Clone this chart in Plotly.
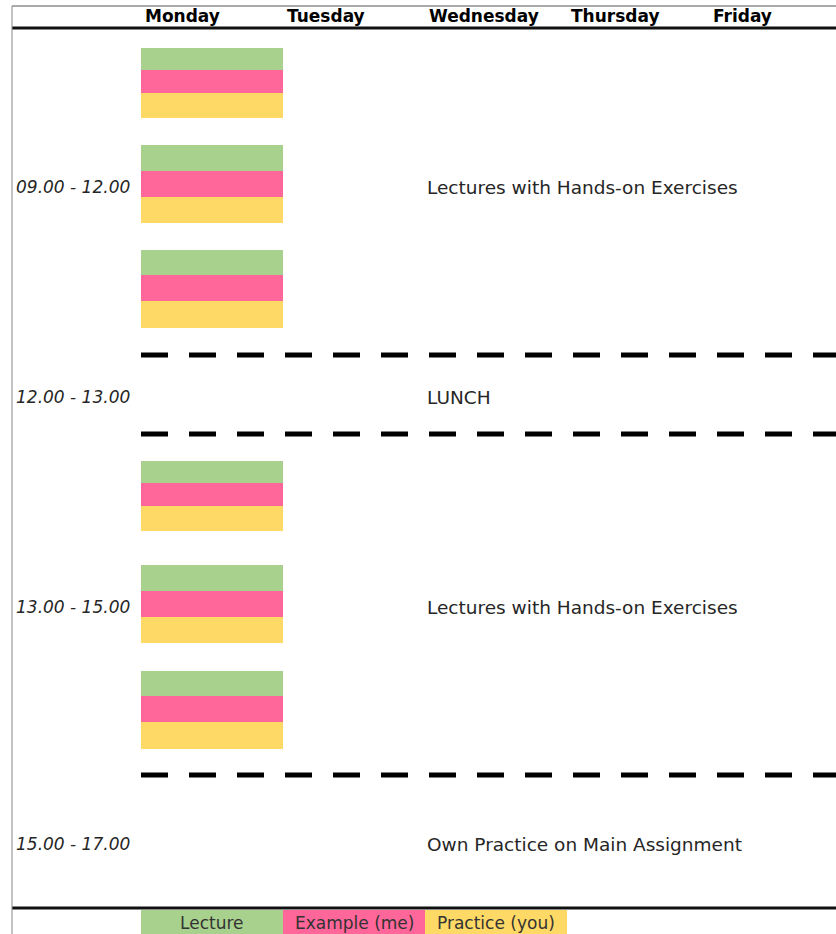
import plotly.graph_objects as go

# ---- data ----
days = ["Monday", "Tuesday", "Wednesday", "Thursday", "Friday"]
slot_times = ["09.00 - 12.00", "12.00 - 13.00", "13.00 - 15.00", "15.00 - 17.00"]
slot_activity = ["Lectures with Hands-on Exercises", "LUNCH",
                 "Lectures with Hands-on Exercises", "Own Practice on Main Assignment"]
blocks_per_slot = [3, 0, 3, 0]
legend_items = ["Lecture", "Example (me)", "Practice (you)"]

# ---- layout / style ----
W, H = 836, 934
colors = ["#A9D18E", "#FF6699", "#FFD966"]
col_x0, col_w = 141, 142
slot_centers = [187, 397, 607, 844]
block_tops = {0: [48, 145, 250], 2: [461, 565, 671]}
block_band_h = [[22, 23, 25], [26, 26, 26], [25, 26, 27]]
dash_ys = [355, 434, 775]
header_y, header_line_y, top_line_y = 16, 28, 6
bottom_line_y, legend_y0, legend_y1 = 908, 910, 934
left_x = 12

FONT = "DejaVu Sans"

fig = go.Figure()

# schedule blocks
for s, n in enumerate(blocks_per_slot):
    if n == 0:
        continue
    for b, top in enumerate(block_tops[s][:n]):
        y = top
        for k, c in enumerate(colors):
            h = block_band_h[b][k]
            fig.add_trace(go.Bar(
                orientation="h", y=[y + h / 2], x=[col_w], base=[col_x0],
                width=[h], marker=dict(color=c, line=dict(width=0)),
                showlegend=False, hoverinfo="skip"))
            y += h

# legend cells
for k, (name, c) in enumerate(zip(legend_items, colors)):
    fig.add_trace(go.Bar(
        orientation="h", y=[(legend_y0 + legend_y1) / 2], x=[col_w],
        base=[col_x0 + k * col_w], width=[legend_y1 - legend_y0],
        marker=dict(color=c, line=dict(width=0)), showlegend=False,
        hoverinfo="skip"))
    fig.add_annotation(x=col_x0 + (k + 0.5) * col_w, y=(legend_y0 + legend_y1) / 2 + 1,
                       text=name, xanchor="center", yanchor="middle", showarrow=False,
                       font=dict(family=FONT, size=17, color="#333333"))

# lines
fig.add_trace(go.Scatter(x=[left_x, W], y=[top_line_y, top_line_y], mode="lines",
                         line=dict(color="#555555", width=1), showlegend=False, hoverinfo="skip"))
for yy in (header_line_y, bottom_line_y):
    fig.add_trace(go.Scatter(x=[left_x, W], y=[yy, yy], mode="lines",
                             line=dict(color="#111111", width=3), showlegend=False, hoverinfo="skip"))
fig.add_trace(go.Scatter(x=[left_x, left_x], y=[top_line_y, H], mode="lines",
                         line=dict(color="#888888", width=1), showlegend=False, hoverinfo="skip"))
for yy in dash_ys:
    fig.add_trace(go.Scatter(x=[col_x0, W], y=[yy, yy], mode="lines",
                             line=dict(color="#000000", width=5, dash="27px,21px"),
                             showlegend=False, hoverinfo="skip"))

# header text
for i, d in enumerate(days):
    fig.add_annotation(x=col_x0 + 2 + i * col_w, y=header_y, text="<b>" + d + "</b>",
                       xanchor="left", yanchor="middle", showarrow=False,
                       font=dict(family=FONT, size=17, color="#000000"))

# slot labels and activities
for t, a, yc in zip(slot_times, slot_activity, slot_centers):
    fig.add_annotation(x=left_x + 2, y=yc, text="<i>" + t + "</i>", xanchor="left",
                       yanchor="middle", showarrow=False,
                       font=dict(family=FONT, size=17, color="#262626"))
    fig.add_annotation(x=col_x0 + 2 * col_w, y=yc, text=a, xanchor="left",
                       yanchor="middle", showarrow=False,
                       font=dict(family=FONT, size=18.5, color="#262626"))

fig.update_layout(
    width=W, height=H, margin=dict(l=0, r=0, t=0, b=0),
    paper_bgcolor="white", plot_bgcolor="white", barmode="overlay", bargap=0,
    xaxis=dict(range=[0, W], visible=False, fixedrange=True),
    yaxis=dict(range=[H, 0], visible=False, fixedrange=True),
)
fig.write_html("out.html",
               config={"displayModeBar": False, "staticPlot": True},
               post_script="document.body.style.margin='0px';"
                           "document.body.style.overflow='hidden';")
